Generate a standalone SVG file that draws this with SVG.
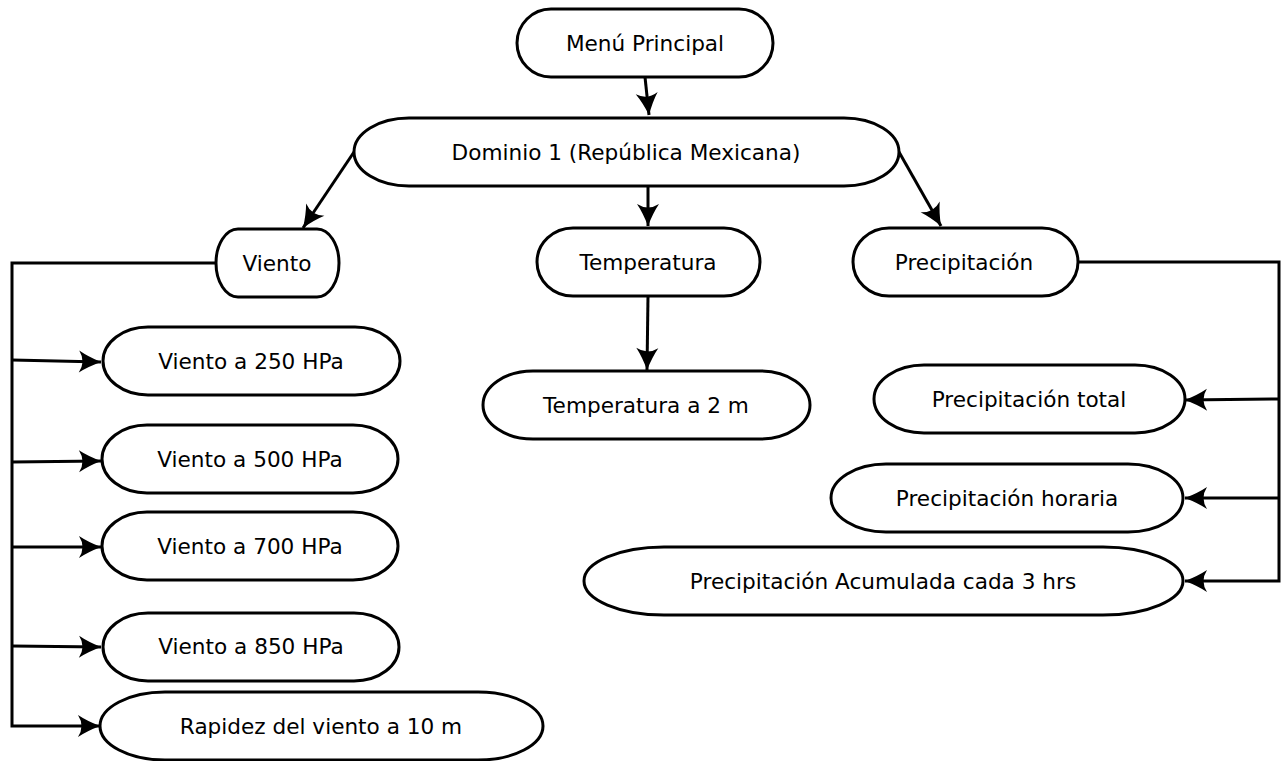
<svg xmlns="http://www.w3.org/2000/svg" width="1287" height="761" viewBox="0 0 1287 761">
<style>
.n rect{fill:#fff;stroke:#000;stroke-width:3}
.n text{font-family:"DejaVu Sans",sans-serif;font-size:21.6px;fill:#000;text-anchor:middle;dominant-baseline:central}
.c path{fill:none;stroke:#000;stroke-width:3}
</style>
<defs>
<marker id="a" markerUnits="userSpaceOnUse" markerWidth="26" markerHeight="26" viewBox="-24 -13 26 26" refX="0" refY="0" orient="auto">
<path d="M0,0 Q-13,-5 -22,-11 Q-15,0 -22,11 Q-13,5 0,0 Z" fill="#000"/>
</marker>
</defs>
<rect width="1287" height="761" fill="#fff"/>
<g class="c">
<path d="M645,77 L649,115" marker-end="url(#a)"/>
<path d="M354,152 L303,228" marker-end="url(#a)"/>
<path d="M648,186 L648,226" marker-end="url(#a)"/>
<path d="M899,152 L941,226" marker-end="url(#a)"/>
<path d="M648,296 L647,370" marker-end="url(#a)"/>
<path d="M216,263 H12 V726 H100" marker-end="url(#a)"/>
<path d="M12,360 L101,362" marker-end="url(#a)"/>
<path d="M12,462 L101,461" marker-end="url(#a)"/>
<path d="M12,547 L101,547" marker-end="url(#a)"/>
<path d="M12,646 L101,647" marker-end="url(#a)"/>
<path d="M1078,262 H1279 V581 H1185" marker-end="url(#a)"/>
<path d="M1279,399 L1185,400" marker-end="url(#a)"/>
<path d="M1279,498 L1185,498" marker-end="url(#a)"/>
</g>
<g id="menu" class="n"><rect x="517" y="9" width="256" height="68" rx="34" ry="34"/><text x="645" y="43">Menú Principal</text></g>
<g id="dominio" class="n"><rect x="354" y="118" width="545" height="68" rx="55" ry="34"/><text x="626" y="152">Dominio 1 (República Mexicana)</text></g>
<g id="viento" class="n"><rect x="216" y="229" width="123" height="68" rx="22" ry="34"/><text x="277" y="263">Viento</text></g>
<g id="temperatura" class="n"><rect x="537" y="228" width="223" height="68" rx="36" ry="34"/><text x="648" y="262">Temperatura</text></g>
<g id="precipitacion" class="n"><rect x="853" y="228" width="225" height="68" rx="36" ry="34"/><text x="964" y="262">Precipitación</text></g>
<g id="v250" class="n"><rect x="103" y="327" width="297" height="68" rx="45" ry="34"/><text x="251" y="361">Viento a 250 HPa</text></g>
<g id="v500" class="n"><rect x="102" y="425" width="296" height="68" rx="45" ry="34"/><text x="250" y="459">Viento a 500 HPa</text></g>
<g id="v700" class="n"><rect x="102" y="512" width="296" height="68" rx="45" ry="34"/><text x="250" y="546">Viento a 700 HPa</text></g>
<g id="v850" class="n"><rect x="103" y="613" width="296" height="68" rx="45" ry="34"/><text x="251" y="646">Viento a 850 HPa</text></g>
<g id="rapidez" class="n"><rect x="100" y="692" width="443" height="68" rx="65" ry="34"/><text x="321" y="726">Rapidez del viento a 10 m</text></g>
<g id="temp2m" class="n"><rect x="483" y="371" width="327" height="68" rx="50" ry="34"/><text x="646" y="405">Temperatura a 2 m</text></g>
<g id="ptotal" class="n"><rect x="874" y="365" width="311" height="68" rx="50" ry="34"/><text x="1029" y="399">Precipitación total</text></g>
<g id="phoraria" class="n"><rect x="831" y="464" width="352" height="68" rx="55" ry="34"/><text x="1007" y="498">Precipitación horaria</text></g>
<g id="pacum" class="n"><rect x="584" y="547" width="599" height="68" rx="80" ry="34"/><text x="883" y="581">Precipitación Acumulada cada 3 hrs</text></g>
</svg>
